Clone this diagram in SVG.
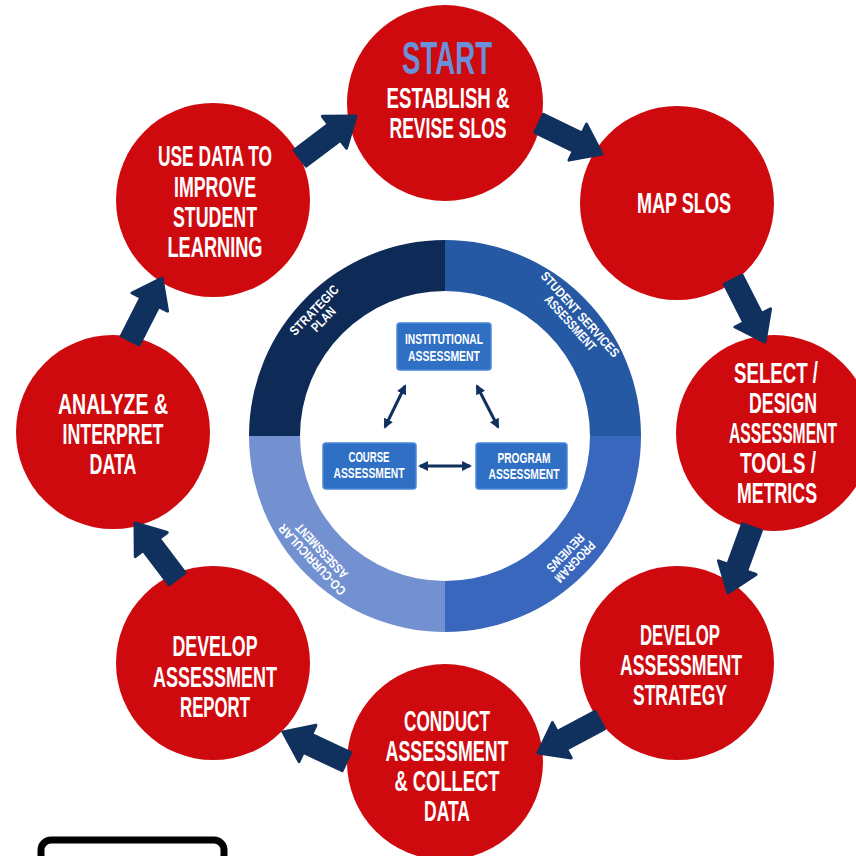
<svg xmlns="http://www.w3.org/2000/svg" xmlns:xlink="http://www.w3.org/1999/xlink" width="856" height="856" viewBox="0 0 856 856">
<style>
.circ{fill:#cf0a0f}
.ct{font-family:"Liberation Sans Narrow","Liberation Sans",sans-serif;font-weight:bold;font-size:29px;fill:#ffffff;text-anchor:middle}
.start{font-family:"Liberation Sans Narrow","Liberation Sans",sans-serif;font-weight:bold;font-size:46px;fill:#6b8fd8;text-anchor:middle}
.rt{font-family:"Liberation Sans Narrow","Liberation Sans",sans-serif;font-weight:bold;font-size:13px;fill:#ffffff;text-anchor:middle}
.bt{font-family:"Liberation Sans Narrow","Liberation Sans",sans-serif;font-weight:bold;font-size:14px;fill:#ffffff;text-anchor:middle}
.box{fill:#2f6fc4;stroke:#4a88d8;stroke-width:1.5}
.blk{fill:#10305e;stroke:#10305e;stroke-width:3;stroke-linejoin:round}
.dbl{stroke:#10305e;stroke-width:3;fill:none;marker-start:url(#ah);marker-end:url(#ah)}
</style>
<defs>
<path id="blkarrow" d="M-70,-10 L-27,-10 L-27,-20 L0,0 L-27,20 L-27,10 L-70,10 Z"/>
<marker id="ah" viewBox="0 0 10 10" refX="8" refY="5" markerWidth="3.3" markerHeight="3.3" orient="auto-start-reverse" markerUnits="strokeWidth">
<path d="M0,0 L10,5 L0,10 Z" fill="#10305e"/>
</marker>
</defs>
<rect width="856" height="856" fill="#ffffff"/>

<g id="ring">
<path d="M249,436 A196,196 0 0 1 445,240 L445,291 A145,145 0 0 0 300,436 Z" fill="#0e2b57"/>
<path d="M445,240 A196,196 0 0 1 641,436 L590,436 A145,145 0 0 0 445,291 Z" fill="#2559a3"/>
<path d="M641,436 A196,196 0 0 1 445,632 L445,581 A145,145 0 0 0 590,436 Z" fill="#3867bd"/>
<path d="M445,632 A196,196 0 0 1 249,436 L300,436 A145,145 0 0 0 445,581 Z" fill="#7391d0"/>
<g transform="translate(318,314) rotate(-46)">
<text class="rt" x="0" y="-1" textLength="64" lengthAdjust="spacingAndGlyphs">STRATEGIC</text>
<text class="rt" x="0" y="12" textLength="29" lengthAdjust="spacingAndGlyphs">PLAN</text>
</g>
<g transform="translate(576,318) rotate(48)">
<text class="rt" x="0" y="-1" textLength="110" lengthAdjust="spacingAndGlyphs">STUDENT SERVICES</text>
<text class="rt" x="0" y="12" textLength="70" lengthAdjust="spacingAndGlyphs">ASSESSMENT</text>
</g>
<g transform="translate(571,558) rotate(134)">
<text class="rt" x="0" y="-1" textLength="52" lengthAdjust="spacingAndGlyphs">PROGRAM</text>
<text class="rt" x="0" y="12" textLength="48" lengthAdjust="spacingAndGlyphs">REVIEWS</text>
</g>
<g transform="translate(316,556) rotate(227)">
<text class="rt" x="0" y="-1" textLength="92" lengthAdjust="spacingAndGlyphs">CO-CURRICULAR</text>
<text class="rt" x="0" y="12" textLength="70" lengthAdjust="spacingAndGlyphs">ASSESSMENT</text>
</g>
</g>

<g id="institutional">
<rect class="box" x="397" y="323" width="94" height="47" rx="3"/>
<text class="bt" x="444" y="344" textLength="78" lengthAdjust="spacingAndGlyphs">INSTITUTIONAL</text>
<text class="bt" x="444" y="361" textLength="72" lengthAdjust="spacingAndGlyphs">ASSESSMENT</text>
</g>
<g id="course">
<rect class="box" x="323" y="443" width="93" height="46" rx="3"/>
<text class="bt" x="369" y="462" textLength="41" lengthAdjust="spacingAndGlyphs">COURSE</text>
<text class="bt" x="369" y="478" textLength="71" lengthAdjust="spacingAndGlyphs">ASSESSMENT</text>
</g>
<g id="program">
<rect class="box" x="476" y="443" width="91" height="46" rx="3"/>
<text class="bt" x="524" y="463" textLength="53" lengthAdjust="spacingAndGlyphs">PROGRAM</text>
<text class="bt" x="524" y="479" textLength="71" lengthAdjust="spacingAndGlyphs">ASSESSMENT</text>
</g>

<g id="c1">
<circle class="circ" cx="445" cy="103" r="98"/>
<text class="start" x="447" y="74" textLength="90" lengthAdjust="spacingAndGlyphs">START</text>
<text class="ct" x="448" y="108" textLength="123" lengthAdjust="spacingAndGlyphs">ESTABLISH &amp;</text>
<text class="ct" x="448" y="138" textLength="117" lengthAdjust="spacingAndGlyphs">REVISE SLOS</text>
</g>
<g id="c2">
<circle class="circ" cx="677" cy="203" r="97"/>
<text class="ct" x="684" y="213" textLength="94" lengthAdjust="spacingAndGlyphs">MAP SLOS</text>
</g>
<g id="c3">
<circle class="circ" cx="774" cy="433" r="98"/>
<text class="ct" x="776" y="383" textLength="84" lengthAdjust="spacingAndGlyphs">SELECT /</text>
<text class="ct" x="783" y="413" textLength="68" lengthAdjust="spacingAndGlyphs">DESIGN</text>
<text class="ct" x="783" y="443" textLength="108" lengthAdjust="spacingAndGlyphs">ASSESSMENT</text>
<text class="ct" x="778" y="473" textLength="76" lengthAdjust="spacingAndGlyphs">TOOLS /</text>
<text class="ct" x="777" y="503" textLength="80" lengthAdjust="spacingAndGlyphs">METRICS</text>
</g>
<g id="c4">
<circle class="circ" cx="677" cy="663" r="97"/>
<text class="ct" x="680" y="645" textLength="80" lengthAdjust="spacingAndGlyphs">DEVELOP</text>
<text class="ct" x="681" y="675" textLength="122" lengthAdjust="spacingAndGlyphs">ASSESSMENT</text>
<text class="ct" x="680" y="705" textLength="94" lengthAdjust="spacingAndGlyphs">STRATEGY</text>
</g>
<g id="c5">
<circle class="circ" cx="445" cy="762" r="98"/>
<text class="ct" x="447" y="731" textLength="86" lengthAdjust="spacingAndGlyphs">CONDUCT</text>
<text class="ct" x="447" y="761" textLength="123" lengthAdjust="spacingAndGlyphs">ASSESSMENT</text>
<text class="ct" x="447" y="791" textLength="105" lengthAdjust="spacingAndGlyphs">&amp; COLLECT</text>
<text class="ct" x="447" y="821" textLength="46" lengthAdjust="spacingAndGlyphs">DATA</text>
</g>
<g id="c6">
<circle class="circ" cx="213" cy="663" r="97"/>
<text class="ct" x="215" y="656" textLength="85" lengthAdjust="spacingAndGlyphs">DEVELOP</text>
<text class="ct" x="215" y="687" textLength="124" lengthAdjust="spacingAndGlyphs">ASSESSMENT</text>
<text class="ct" x="215" y="717" textLength="70" lengthAdjust="spacingAndGlyphs">REPORT</text>
</g>
<g id="c7">
<circle class="circ" cx="113" cy="432" r="97"/>
<text class="ct" x="113" y="414" textLength="110" lengthAdjust="spacingAndGlyphs">ANALYZE &amp;</text>
<text class="ct" x="113" y="444" textLength="101" lengthAdjust="spacingAndGlyphs">INTERPRET</text>
<text class="ct" x="113" y="474" textLength="47" lengthAdjust="spacingAndGlyphs">DATA</text>
</g>
<g id="c8">
<circle class="circ" cx="213" cy="200" r="97"/>
<text class="ct" x="215" y="166" textLength="114" lengthAdjust="spacingAndGlyphs">USE DATA TO</text>
<text class="ct" x="215" y="197" textLength="82" lengthAdjust="spacingAndGlyphs">IMPROVE</text>
<text class="ct" x="215" y="227" textLength="84" lengthAdjust="spacingAndGlyphs">STUDENT</text>
<text class="ct" x="215" y="257" textLength="95" lengthAdjust="spacingAndGlyphs">LEARNING</text>
</g>

<g id="connectors">
<use xlink:href="#blkarrow" class="blk" transform="translate(602,154) rotate(26)"/>
<use xlink:href="#blkarrow" class="blk" transform="translate(765,342) rotate(63)"/>
<use xlink:href="#blkarrow" class="blk" transform="translate(728,593) rotate(110)"/>
<use xlink:href="#blkarrow" class="blk" transform="translate(538,753) rotate(152)"/>
<use xlink:href="#blkarrow" class="blk" transform="translate(283,732) rotate(205)"/>
<use xlink:href="#blkarrow" class="blk" transform="translate(135,523) rotate(233)"/>
<use xlink:href="#blkarrow" class="blk" transform="translate(162,278) rotate(297)"/>
<use xlink:href="#blkarrow" class="blk" transform="translate(356,116) rotate(323)"/>
<line class="dbl" x1="385" y1="427" x2="405" y2="386"/>
<line class="dbl" x1="477" y1="386" x2="498" y2="427"/>
<line class="dbl" x1="420" y1="466" x2="470" y2="466"/>
</g>

<g id="legend-box">
<rect x="41" y="840" width="183" height="40" rx="10" fill="none" stroke="#000000" stroke-width="7"/>
</g>
</svg>
